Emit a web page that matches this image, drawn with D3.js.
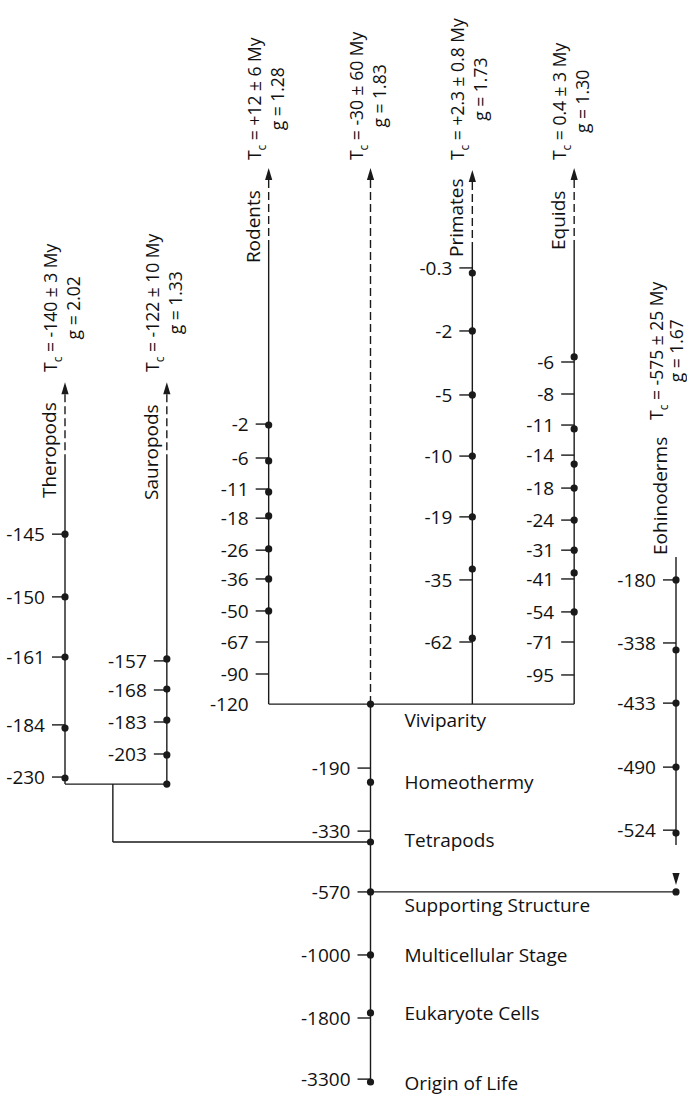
<!DOCTYPE html>
<html><head><meta charset="utf-8">
<script src="https://cdn.jsdelivr.net/npm/d3@7"></script>
<style>
body{margin:0;background:#fff}
text{font-family:"Open Sans",sans-serif;fill:#111}
</style>
</head><body>
<svg id="chart" width="687" height="1098"></svg>
<script>
// ---------- DATA ----------
const branchNames = ["Theropods","Sauropods","Rodents","Trunk","Primates","Equids","Eohinoderms"];

const theropodTicks = ["-145","-150","-161","-184","-230"];
const theropodTickRows = [12.63,14.59,16.47,18.59,20.22];
const theropodDotRows = [12.63,14.59,16.47,18.69,20.25];

const sauropodTicks = ["-157","-168","-183","-203"];
const sauropodTickRows = [16.59,17.5,18.5,19.5];
const sauropodDotRows = [16.53,17.47,18.44,19.53,20.44];

const rodentTicks = ["-2","-6","-11","-18","-26","-36","-50","-67","-90","-120"];
const rodentTickRows = [9.19,10.25,11.22,12.13,13.13,14.03,15.03,16.0,17.0,17.94];
const rodentDotRows = [9.22,10.34,11.31,12.06,13.09,14.03,15.03];

const trunkTicks = ["-190","-330","-570","-1000","-1800","-3300"];
const trunkTickRows = [19.94,21.91,23.81,25.78,27.75,29.66];
const trunkDotRows = [17.94,20.38,22.25,23.81,25.78,27.59,29.75];

const primateTicks = ["-0.3","-2","-5","-10","-19","-35","-62"];
const primateTickRows = [4.31,6.28,8.28,10.19,12.09,14.06,16.0];
const primateDotRows = [4.47,6.28,8.28,10.19,12.09,13.72,15.88];

const equidTicks = ["-6","-8","-11","-14","-18","-24","-31","-41","-54","-71","-95"];
const equidTickRows = [7.25,8.25,9.22,10.16,11.19,12.19,13.13,14.03,15.06,16.0,17.03];
const equidDotRows = [7.09,9.34,10.44,11.19,12.19,13.13,13.84,15.06];

const echinoTicks = ["-180","-338","-433","-490","-524"];
const echinoTickRows = [14.06,16.03,17.91,19.91,21.88];
const echinoDotRows = [14.06,16.25,17.91,19.91,21.97,23.81];

// branch extents (rows): arrow tip, end of dashed part, bottom of solid line
const arrowTipRows = [7.88,7.88,1.19,1.19,1.25,1.19,null];
const dashEndRows  = [10.31,10.31,3.59,17.94,3.66,3.66,13.34];
const bottomRows   = [20.44,20.44,17.94,29.8,17.94,17.94,22.34];

// labels
const nameRows = [11.5,11.56,4.16,null,3.97,3.75,13.28];
const tcValues = ["-140 ± 3 My","-122 ± 10 My","+12 ± 6 My","-30 ± 60 My","+2.3 ± 0.8 My","0.4 ± 3 My","-575 ± 25 My"];
const gValues  = ["2.02","1.33","1.28","1.83","1.73","1.30","1.67"];
const tcRows   = [7.56,7.56,0.94,0.94,0.94,0.94,9.06];

const eventNames = ["Viviparity","Homeothermy","Tetrapods","Supporting Structure","Multicellular Stage","Eukaryote Cells","Origin of Life"];
const eventRows  = [18.44,20.38,22.19,24.22,25.78,27.59,29.78];

// junction rows
const vivRow = 17.94, dinoRow = 20.44, tetraRow = 22.25, supportRow = 23.81;
const echinoArrowTipRow = 23.59;

// ---------- DRAW ----------
const svg = d3.select("#chart");
const y = d3.scaleLinear().domain([0, 30]).range([130, 1090]);
const x = d3.scalePoint().domain(branchNames).range([65, 676]);
const stroke = "#1a1a1a", sw = 1.4, fs = 19, tfs = 17.5;
const W = 687;

const ticks = [theropodTicks, sauropodTicks, rodentTicks, trunkTicks, primateTicks, equidTicks, echinoTicks];
const tickRows = [theropodTickRows, sauropodTickRows, rodentTickRows, trunkTickRows, primateTickRows, equidTickRows, echinoTickRows];
const dotRows = [theropodDotRows, sauropodDotRows, rodentDotRows, trunkDotRows, primateDotRows, equidDotRows, echinoDotRows];

const gLines = svg.append("g");
const line = (x1,y1,x2,y2,dash) => gLines.append("line")
  .attr("x1",x1).attr("y1",y1).attr("x2",x2).attr("y2",y2)
  .attr("stroke",stroke).attr("stroke-width",sw)
  .attr("stroke-dasharray",dash||null);
const tri = (cx, tipY, dir) => {
  const h = 12, w = 3.6;
  svg.append("path")
    .attr("d", `M${cx},${tipY} L${cx-w},${tipY-dir*h} L${cx+w},${tipY-dir*h} Z`)
    .attr("fill", stroke);
};

branchNames.forEach((b, i) => {
  const bx = x(b);
  if (arrowTipRows[i] !== null) {
    const tip = y(arrowTipRows[i]);
    tri(bx, tip, -1);
    line(bx, tip + 12, bx, y(dashEndRows[i]), "8,4");
  }
  line(bx, y(dashEndRows[i]), bx, y(bottomRows[i]));
  ticks[i].forEach((t, k) => {
    const ty = y(tickRows[i][k]);
    if (Math.abs(tickRows[i][k] - bottomRows[i]) > 0.05 || b === "Trunk")
      line(bx - 13, ty, bx, ty);
    svg.append("text").attr("x", bx - 20).attr("y", ty).attr("dy", "0.36em")
      .attr("text-anchor", "end").attr("font-size", fs).text(t);
  });
  dotRows[i].forEach(r => svg.append("circle").attr("cx", bx).attr("cy", y(r)).attr("r", 3.6).attr("fill", stroke));
  if (nameRows[i] !== null) {
    svg.append("text").attr("transform", `translate(${bx - 9},${y(nameRows[i])}) rotate(-90)`)
      .attr("font-size", fs).text(b);
  }
  // Tc annotation (two rotated lines; kept inside the right edge)
  const gx = Math.min(bx + 15, W - 4);
  const t1x = Math.min(bx - 8, gx - 20);
  const t1 = svg.append("text").attr("transform", `translate(${t1x},${y(tcRows[i])}) rotate(-90)`)
    .attr("font-size", tfs);
  t1.append("tspan").text("T");
  t1.append("tspan").attr("font-size", 12).attr("dy", 5).text("c");
  t1.append("tspan").attr("dy", -5).text(" = " + tcValues[i]);
  const len = t1.node().getComputedTextLength();
  svg.append("text").attr("transform", `translate(${gx},${y(tcRows[i]) - len/2}) rotate(-90)`)
    .attr("font-size", tfs).attr("text-anchor", "middle").text("g = " + gValues[i]);
});

// connectors
line(x("Rodents"), y(vivRow), x("Equids"), y(vivRow));
line(x("Theropods"), y(dinoRow), x("Sauropods"), y(dinoRow));
const stemX = d3.interpolateNumber(x("Theropods"), x("Sauropods"))(0.47);
line(stemX, y(dinoRow), stemX, y(tetraRow));
line(stemX, y(tetraRow), x("Trunk"), y(tetraRow));
line(x("Trunk"), y(supportRow), x("Eohinoderms"), y(supportRow));
tri(x("Eohinoderms"), y(echinoArrowTipRow), 1);

// event labels
eventNames.forEach((e, k) => {
  svg.append("text").attr("x", x("Trunk") + 34).attr("y", y(eventRows[k])).attr("dy", "0.36em")
    .attr("font-size", fs).text(e);
});
</script>
</body></html>
